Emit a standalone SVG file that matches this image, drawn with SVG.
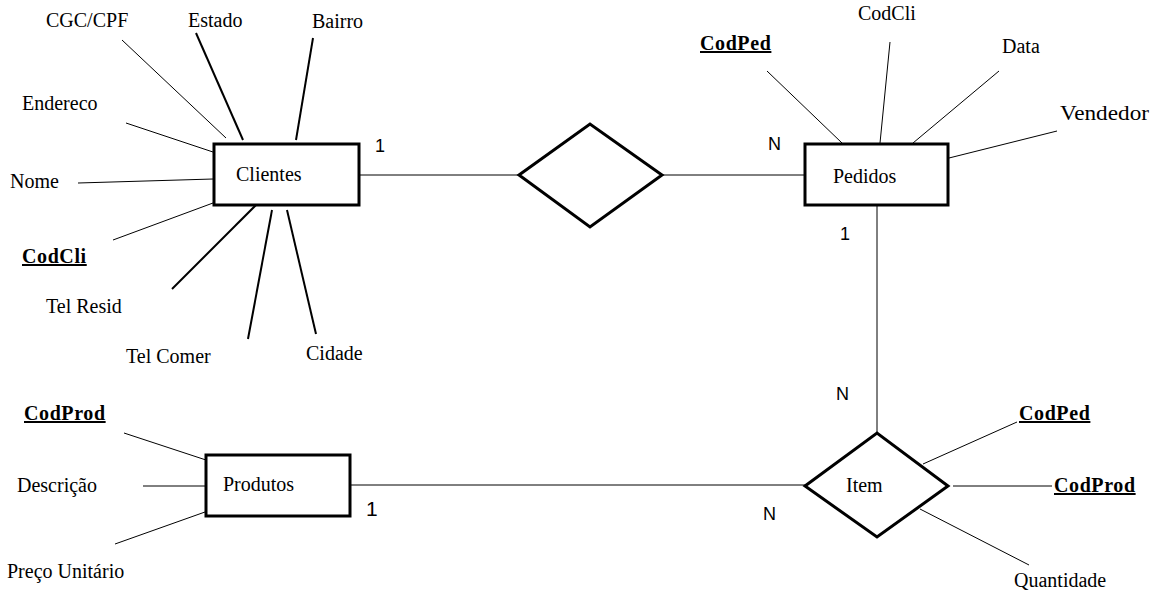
<svg xmlns="http://www.w3.org/2000/svg" width="1156" height="598" viewBox="0 0 1156 598">
<style>
.t{font-family:"Liberation Serif","Times New Roman",serif;font-size:20px;fill:#000}
.k{font-weight:bold;text-decoration:underline;letter-spacing:0.6px}
.c{font-family:"Liberation Sans",Arial,sans-serif;font-size:18px;fill:#000}
.box{fill:#fff;stroke:#000;stroke-width:3}
.l{stroke:#000;stroke-width:1;fill:none}
.b{stroke:#000;stroke-width:2;fill:none}
</style>
<rect width="1156" height="598" fill="#fff"/>
<g id="connectors">
<line class="l" x1="359" y1="175" x2="519" y2="175"/>
<line class="l" x1="662" y1="175" x2="805" y2="175"/>
<line class="l" x1="877" y1="205" x2="877" y2="433"/>
<line class="l" x1="350" y1="485" x2="805" y2="485"/>
<line class="l" x1="122" y1="40" x2="226" y2="138"/>
<line class="b" x1="196" y1="33" x2="243" y2="140"/>
<line class="b" x1="313" y1="38" x2="296" y2="140"/>
<line class="l" x1="126" y1="123" x2="213" y2="152"/>
<line class="l" x1="78" y1="183" x2="213" y2="179"/>
<line class="l" x1="213" y1="203" x2="113" y2="240"/>
<line class="b" x1="257" y1="204" x2="172" y2="289"/>
<line class="b" x1="272" y1="210" x2="248" y2="339"/>
<line class="b" x1="287" y1="210" x2="316" y2="334"/>
<line class="l" x1="767" y1="71" x2="842" y2="143"/>
<line class="l" x1="890" y1="42" x2="880" y2="143"/>
<line class="l" x1="999" y1="71" x2="913" y2="143"/>
<line class="l" x1="1057" y1="131" x2="949" y2="158"/>
<line class="l" x1="923" y1="464" x2="1017" y2="422"/>
<line class="l" x1="953" y1="486" x2="1052" y2="486"/>
<line class="l" x1="920" y1="509" x2="1029" y2="565"/>
<line class="l" x1="124" y1="433" x2="206" y2="460"/>
<line class="l" x1="143" y1="486" x2="206" y2="486"/>
<line class="l" x1="115" y1="544" x2="205" y2="512"/>
</g>
<g id="clientes">
<rect class="box" x="214" y="144" width="145" height="61"/>
<text class="t" x="236" y="181">Clientes</text>
</g>
<g id="rel1">
<polygon class="box" points="519,175 590,124 662,175 590,227"/>
</g>
<g id="pedidos">
<rect class="box" x="805" y="144" width="143" height="61"/>
<text class="t" x="833" y="183">Pedidos</text>
</g>
<g id="produtos">
<rect class="box" x="206" y="455" width="144" height="61"/>
<text class="t" x="223" y="491">Produtos</text>
</g>
<g id="item">
<polygon class="box" points="805,486 877,433 948,486 877,537"/>
<text class="t" x="846" y="492">Item</text>
</g>
<g id="attributes">
<text class="t" x="46" y="27">CGC/CPF</text>
<text class="t" x="188" y="27">Estado</text>
<text class="t" x="312" y="28">Bairro</text>
<text class="t" x="22" y="110">Endereco</text>
<text class="t" x="10" y="188">Nome</text>
<text class="t k" x="22" y="263">CodCli</text>
<text class="t" x="46" y="313">Tel Resid</text>
<text class="t" x="126" y="363">Tel Comer</text>
<text class="t" x="306" y="360">Cidade</text>
<text class="t k" x="700" y="50">CodPed</text>
<text class="t" x="858" y="20">CodCli</text>
<text class="t" x="1002" y="53">Data</text>
<text class="t" x="1060" y="120" textLength="89" lengthAdjust="spacingAndGlyphs">Vendedor</text>
<text class="t k" x="1019" y="420">CodPed</text>
<text class="t k" x="1054" y="492">CodProd</text>
<text class="t" x="1014" y="587">Quantidade</text>
<text class="t k" x="24" y="420">CodProd</text>
<text class="t" x="17" y="492">Descrição</text>
<text class="t" x="7" y="578">Preço Unitário</text>
</g>
<g id="cardinalities">
<text class="c" x="375" y="152">1</text>
<text class="c" x="768" y="150">N</text>
<text class="c" x="840" y="240">1</text>
<text class="c" x="836" y="400">N</text>
<text class="c" x="763" y="520">N</text>
<text class="c" x="366" y="516" style="font-size:21px">1</text>
</g>
</svg>
